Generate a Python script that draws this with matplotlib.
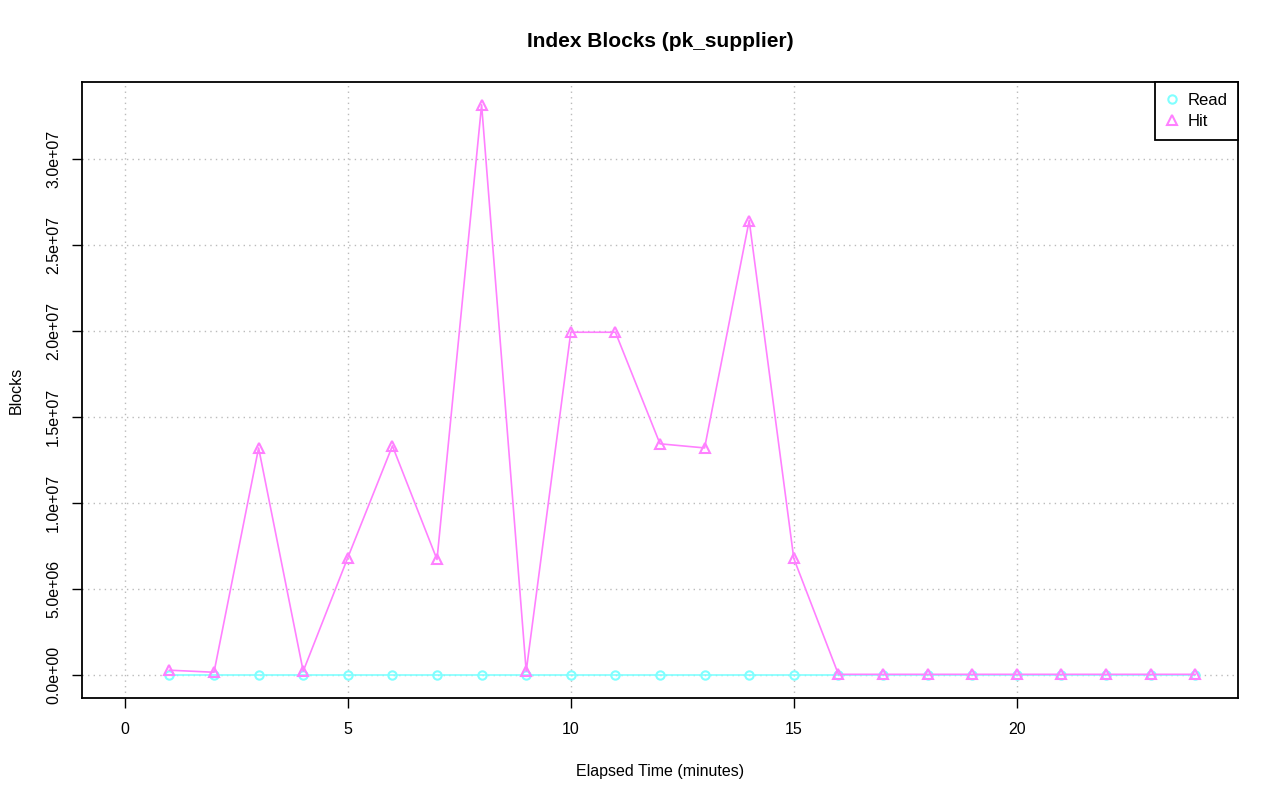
import matplotlib
matplotlib.use("Agg")
import matplotlib.pyplot as plt
from matplotlib.ticker import FuncFormatter

minutes = list(range(1, 25))
read_blocks = [0] * 24
hit_blocks = [
    2.9e5, 1.7e5, 1.32e7, 2.3e5, 6.83e6, 1.332e7, 6.72e6, 3.313e7,
    2.3e5, 1.992e7, 1.992e7, 1.344e7, 1.32e7, 2.641e7, 6.78e6,
    5e4, 5e4, 5e4, 5e4, 5e4, 5e4, 5e4, 5e4, 5e4,
]
x_ticks = [0, 5, 10, 15, 20]
y_ticks = [0, 5e6, 1e7, 1.5e7, 2e7, 2.5e7, 3e7]

read_color = "#80FFFF"
hit_color = "#FF80FF"

plt.rcParams["font.family"] = ["Liberation Sans", "DejaVu Sans"]

fig = plt.figure(figsize=(12.8, 8.01), dpi=100)
ax = fig.add_axes([82 / 1280, 1 - 698 / 801, (1238 - 82) / 1280, (698 - 82) / 801])

ax.plot(minutes, read_blocks, color=read_color, lw=1.2, marker="o", ms=6,
        mfc="none", mec=read_color, mew=1.5, label="Read", zorder=3)
ax.plot(minutes, hit_blocks, color=hit_color, lw=1.2, marker="^", ms=7,
        mfc="none", mec=hit_color, mew=1.5, label="Hit", zorder=4)

ymax = max(hit_blocks)
ax.set_xlim(-0.96, 24.96)
ax.set_ylim(-0.04 * ymax, 1.04 * ymax)
ax.set_xticks(x_ticks)
ax.set_yticks(y_ticks)
ax.yaxis.set_major_formatter(FuncFormatter(lambda v, p: f"{v:.1e}"))
ax.tick_params(direction="out", length=7, width=1, labelsize=11.5)
ax.tick_params(axis="x", pad=10)
ax.tick_params(axis="y", pad=8)
for lab in ax.get_yticklabels():
    lab.set_rotation(90)
    lab.set_va("center")
ax.grid(True, color="#BBBBBB", linestyle=(0, (1, 3)), lw=1)
for s in ax.spines.values():
    s.set_linewidth(1.3)

ax.set_title("Index Blocks (pk_supplier)", fontsize=15, fontweight="bold", pad=25)
ax.set_xlabel("Elapsed Time (minutes)", fontsize=11.5, labelpad=20)
ax.set_ylabel("Blocks", fontsize=11.5, labelpad=16)

leg = ax.legend(loc="upper right", borderaxespad=0, fancybox=False, framealpha=1,
                edgecolor="black", fontsize=12, handlelength=0.8, handletextpad=0.5,
                borderpad=0.65, labelspacing=0.35)
leg.get_frame().set_linewidth(1.3)
for h in leg.legend_handles:
    h.set_linestyle("none")

fig.savefig("out.png", dpi=100)
